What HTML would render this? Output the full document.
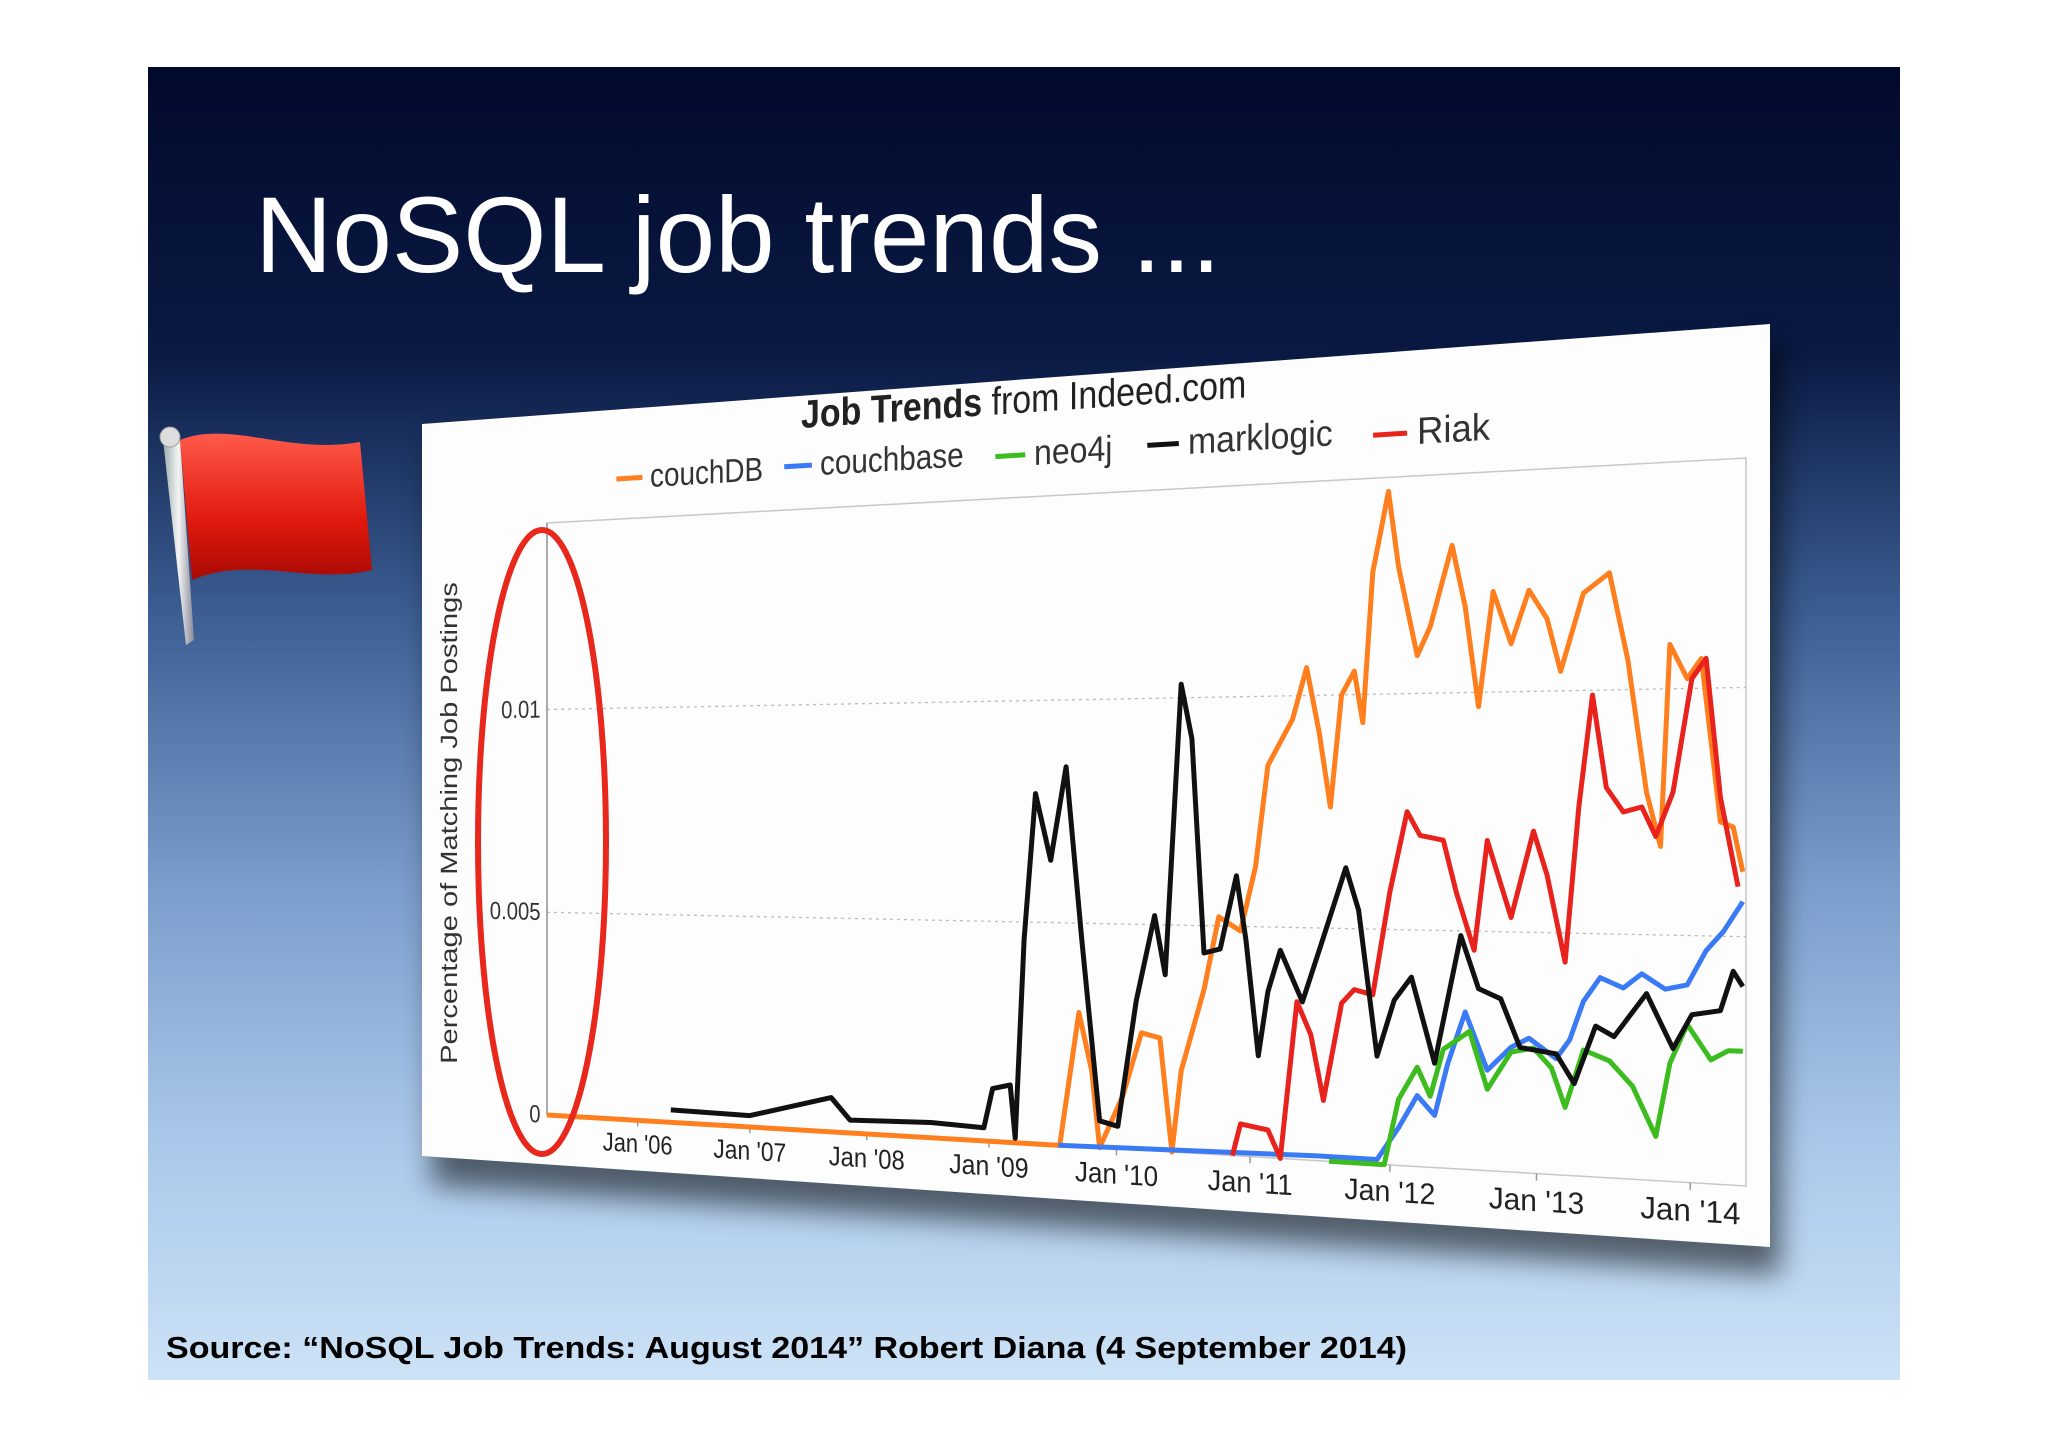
<!DOCTYPE html>
<html><head><meta charset="utf-8"><style>
html,body{margin:0;padding:0;background:#fff;}
svg{display:block;font-family:"Liberation Sans",sans-serif;}
</style></head><body>
<svg id="s" width="2048" height="1447" viewBox="0 0 2048 1447" xmlns="http://www.w3.org/2000/svg">
<defs>
<linearGradient id="bg" x1="0" y1="0" x2="0" y2="1">
<stop offset="0" stop-color="#020a2c"/><stop offset="0.22" stop-color="#0a1a44"/>
<stop offset="0.42" stop-color="#3d5f94"/><stop offset="0.62" stop-color="#7a9ccb"/>
<stop offset="0.82" stop-color="#aac8ea"/><stop offset="1" stop-color="#cce2f6"/></linearGradient>
<filter id="blur" x="-20%" y="-20%" width="140%" height="140%"><feGaussianBlur stdDeviation="14"/></filter>
<linearGradient id="pole" x1="0" y1="0" x2="1" y2="0"><stop offset="0" stop-color="#9aa"/><stop offset="0.5" stop-color="#f4f4f4"/><stop offset="1" stop-color="#889"/></linearGradient>
<linearGradient id="flagg" x1="0" y1="0" x2="0" y2="1"><stop offset="0" stop-color="#ff5a4a"/><stop offset="0.6" stop-color="#e0180c"/><stop offset="1" stop-color="#a80a05"/></linearGradient>
</defs>
<rect x="148" y="67" width="1752" height="1313" fill="url(#bg)"/>
<text x="255" y="272" font-size="108" fill="#fff" textLength="966" lengthAdjust="spacingAndGlyphs">NoSQL job trends ...</text>
<g>
<path d="M163,440 L180,438 L194,640 L186,645 Z" fill="url(#pole)"/>
<circle cx="170" cy="437" r="10" fill="#ddd" stroke="#999"/>
<path d="M180,440 C230,420 290,455 360,442 L372,570 C310,585 250,555 192,580 Z" fill="url(#flagg)"/>
</g>
<polygon points="432,444 1780,344 1780,1275 432,1185" fill="#000" opacity="0.55" filter="url(#blur)"/>
<polygon points="422,424 1770,324 1770,1247 422,1156" fill="#fdfdfd"/>
<g id="chart"></g>
<ellipse cx="542" cy="842" rx="64" ry="312" fill="none" stroke="#e8281c" stroke-width="6"/>
<text x="166" y="1358" font-size="31" font-weight="bold" fill="#000" textLength="1241" lengthAdjust="spacingAndGlyphs">Source: “NoSQL Job Trends: August 2014” Robert Diana (4 September 2014)</text>
</svg>
<script>
const T0 = 2005.16, T1 = 2014.35, YMAX = 0.0146;
const tickYears = [2006,2007,2008,2009,2010,2011,2012,2013,2014];
const tickLabels = ["Jan '06","Jan '07","Jan '08","Jan '09","Jan '10","Jan '11","Jan '12","Jan '13","Jan '14"];
const yTicks = [0, 0.005, 0.01];
const yTickLabels = ["0", "0.005", "0.01"];
const couchdbYears = [2005.16,2009.56,2009.71,2009.81,2009.87,2010.05,2010.19,2010.33,2010.42,2010.49,2010.66,2010.77,2010.93,2011.04,2011.13,2011.22,2011.31,2011.41,2011.50,2011.58,2011.66,2011.75,2011.81,2011.88,2011.99,2012.06,2012.19,2012.28,2012.43,2012.52,2012.61,2012.71,2012.83,2012.95,2013.07,2013.16,2013.31,2013.48,2013.60,2013.72,2013.81,2013.87,2013.98,2014.07,2014.19,2014.27,2014.33];
const couchdbValues = [0,0,0.0030,0.0017,0,0.0012,0.0026,0.0025,0,0.0018,0.0036,0.0052,0.0049,0.0063,0.0085,0.0090,0.0095,0.0106,0.0092,0.0076,0.0100,0.0105,0.0094,0.0126,0.0143,0.0127,0.0108,0.0114,0.0131,0.0118,0.0097,0.0121,0.0110,0.0121,0.0115,0.0104,0.0120,0.0124,0.0106,0.0079,0.0068,0.0109,0.0102,0.0106,0.0073,0.0072,0.0063];
const couchbaseYears = [2009.55,2011.47,2011.91,2012.06,2012.19,2012.31,2012.40,2012.52,2012.67,2012.83,2012.95,2013.13,2013.22,2013.31,2013.42,2013.57,2013.69,2013.84,2013.98,2014.10,2014.21,2014.33];
const couchbaseValues = [0,0.0001,0.0001,0.0008,0.0015,0.0011,0.0022,0.0033,0.0021,0.0026,0.0028,0.0024,0.0028,0.0036,0.0041,0.0039,0.0042,0.0039,0.0040,0.0047,0.0051,0.0057];
const neo4jYears = [2011.57,2011.96,2012.06,2012.19,2012.28,2012.37,2012.55,2012.67,2012.83,2012.98,2013.10,2013.19,2013.31,2013.48,2013.63,2013.78,2013.87,2013.98,2014.13,2014.24,2014.33];
const neo4jValues = [0,0,0.0014,0.0021,0.0015,0.0025,0.0029,0.0017,0.0025,0.0026,0.0022,0.0014,0.0026,0.0024,0.0019,0.0009,0.0024,0.0032,0.0025,0.0027,0.0027];
const marklogicYears = [2006.30,2007.00,2007.70,2007.86,2008.53,2008.96,2009.03,2009.17,2009.21,2009.28,2009.37,2009.49,2009.61,2009.73,2009.87,2010.01,2010.15,2010.29,2010.37,2010.49,2010.57,2010.66,2010.78,2010.90,2010.97,2011.06,2011.13,2011.22,2011.38,2011.53,2011.69,2011.78,2011.91,2012.03,2012.15,2012.31,2012.49,2012.61,2012.76,2012.89,2013.13,2013.25,2013.39,2013.51,2013.72,2013.89,2014.01,2014.19,2014.27,2014.33];
const marklogicValues = [0.0003,0.00027,0.0008,0.0003,0.00035,0.0003,0.0012,0.0013,0.0001,0.0046,0.0079,0.0064,0.0085,0.0047,0.0006,0.0005,0.0033,0.0052,0.0039,0.0103,0.0091,0.0044,0.0045,0.0061,0.0047,0.0022,0.0036,0.0045,0.0034,0.0048,0.0063,0.0054,0.0023,0.0035,0.0040,0.0022,0.0049,0.0038,0.0036,0.0026,0.0025,0.0019,0.0031,0.0029,0.0038,0.0027,0.0034,0.0035,0.0043,0.0040];
const riakYears = [2010.87,2010.93,2011.13,2011.22,2011.34,2011.44,2011.53,2011.66,2011.75,2011.88,2012.00,2012.12,2012.21,2012.37,2012.46,2012.58,2012.67,2012.83,2012.98,2013.07,2013.19,2013.28,2013.37,2013.46,2013.57,2013.69,2013.78,2013.89,2014.01,2014.10,2014.19,2014.30];
const riakValues = [0,0.0007,0.0006,0,0.0034,0.0027,0.0013,0.0034,0.0037,0.0036,0.0058,0.0075,0.0070,0.0069,0.0058,0.0046,0.0069,0.0053,0.0071,0.0062,0.0044,0.0076,0.0099,0.0080,0.0075,0.0076,0.0070,0.0079,0.0102,0.0106,0.0078,0.0060];

const W = 1200, H = 600;
const Q = [[547,523],[1746,458],[1746,1186],[547,1115]];
function sq2quad(q){
  const [x0,y0]=q[0],[x1,y1]=q[1],[x2,y2]=q[2],[x3,y3]=q[3];
  const dx1=x1-x2,dx2=x3-x2,dx3=x0-x1+x2-x3,dy1=y1-y2,dy2=y3-y2,dy3=y0-y1+y2-y3;
  const den=dx1*dy2-dx2*dy1;
  const g=(dx3*dy2-dx2*dy3)/den, h=(dx1*dy3-dx3*dy1)/den;
  return [x1-x0+g*x1, x3-x0+h*x3, x0, y1-y0+g*y1, y3-y0+h*y3, y0, g, h, 1];
}
const M = sq2quad(Q);
function P(fx,fy){const u=fx/W,v=fy/H;const w=M[6]*u+M[7]*v+M[8];
  return [(M[0]*u+M[1]*v+M[2])/w,(M[3]*u+M[4]*v+M[5])/w];}
function inv3(m){const [a,b,c,d,e,f,g,h,i]=m;
  const A=e*i-f*h,B=-(d*i-f*g),C=d*h-e*g,D=-(b*i-c*h),E=a*i-c*g,F=-(a*h-b*g),G=b*f-c*e,Hh=-(a*f-c*d),I=a*e-b*d;
  const det=a*A+b*B+c*C;return [A/det,D/det,G/det,B/det,E/det,Hh/det,C/det,F/det,I/det];}
const MI = inv3(M);
function Pinv(x,y){const w=MI[6]*x+MI[7]*y+MI[8];
  return [(MI[0]*x+MI[1]*y+MI[2])/w*W,(MI[3]*x+MI[4]*y+MI[5])/w*H];}
function tf(fx,fy){const p=P(fx,fy),px=P(fx+1,fy),py=P(fx,fy+1);
  return `matrix(${px[0]-p[0]},${px[1]-p[1]},${py[0]-p[0]},${py[1]-p[1]},${p[0]},${p[1]})`;}
const xs = t => (t-T0)/(T1-T0)*W;
const ys = v => H - v/YMAX*H;
const NS="http://www.w3.org/2000/svg";
const g=document.getElementById('chart');
function el(tag,attrs,parent){const e=document.createElementNS(NS,tag);for(const k in attrs)e.setAttribute(k,attrs[k]);(parent||g).appendChild(e);return e;}
function pts(arr){return arr.map(a=>P(a[0],a[1]).map(n=>n.toFixed(1)).join(',')).join(' ');}

const frame=el('polygon',{points:pts([[0,0],[W,0],[W,H],[0,H]]),fill:'none',stroke:'#c8c8c8','stroke-width':1.5});


yTicks.forEach((v,i)=>{
  if(v>0){const gl=el('polyline',{points:pts([[0,ys(v)],[W,ys(v)]]),fill:'none',stroke:'#bbb','stroke-width':1.3,'stroke-dasharray':'3,4'});
  
  }
  const t=el('text',{transform:tf(-8,ys(v)+8),'text-anchor':'end','font-size':25,fill:'#333'});
  
  
  t.textContent=yTickLabels[i];
});
const ax=el('polyline',{points:pts([[0,0],[0,H]]),fill:'none',stroke:'#999','stroke-width':1.5});


tickYears.forEach((yr,i)=>{
  const tk=el('polyline',{points:pts([[xs(yr),H],[xs(yr),H+6]]),fill:'none',stroke:'#999','stroke-width':1.5});
  
  
  const t=el('text',{transform:tf(xs(yr),H+32),'text-anchor':'middle','font-size':26,fill:'#222'});
  
  
  t.textContent=tickLabels[i];
});
{const fp=Pinv(457,823);
 const t=el('text',{transform:tf(fp[0],fp[1])+' rotate(-90)','text-anchor':'middle','font-size':30,fill:'#333'});
 
 
 t.textContent='Percentage of Matching Job Postings';}
{const fp=Pinv(801,428);
 const t=el('text',{transform:tf(fp[0],fp[1]),'font-size':38,fill:'#222'});
 
 
 const b=el('tspan',{'font-weight':'bold'},t);b.textContent='Job Trends';
 const n=el('tspan',{},t);n.textContent=' from Indeed.com';}
const series=[
 ['couchDB','#ff7f1e',couchdbYears,couchdbValues,[650,487]],
 ['couchbase','#3a7af5',couchbaseYears,couchbaseValues,[820,475]],
 ['neo4j','#3cbc1e',neo4jYears,neo4jValues,[1034,465]],
 ['marklogic','#111',marklogicYears,marklogicValues,[1188,454]],
 ['Riak','#e8231e',riakYears,riakValues,[1417,444]]];
series.forEach(s=>{
  const fp=Pinv(s[4][0],s[4][1]);
  const sw=el('polyline',{points:pts([[fp[0]-40,fp[1]-10],[fp[0]-9,fp[1]-10]]),fill:'none',stroke:s[1],'stroke-width':5});
  
  
  const t=el('text',{transform:tf(fp[0],fp[1]),'font-size':33,fill:'#333'});
  
  
  t.textContent=s[0];
});
[0,1,2,4,3].forEach(i=>{
  const s=series[i];
  const p=s[2].map((yr,j)=>[xs(yr),ys(s[3][j])]);
  const l=el('polyline',{points:pts(p),fill:'none',stroke:s[1],'stroke-width':5,'stroke-linejoin':'round'});
  
  
});
</script>
</body></html>
